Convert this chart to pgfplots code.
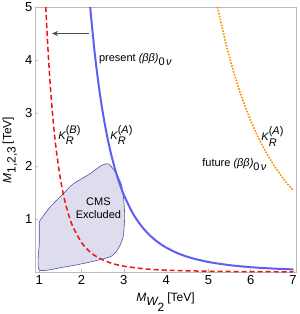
\documentclass[border=0pt]{standalone}
\usepackage{fontspec}
\setmainfont{Liberation Sans}
\usepackage{pgfplots}
\pgfplotsset{compat=1.18}
\usetikzlibrary{arrows.meta}
\definecolor{cblue}{RGB}{94,94,240}
\definecolor{cred}{RGB}{238,20,20}
\definecolor{corange}{RGB}{255,140,0}
\definecolor{cfill}{RGB}{221,221,238}
\definecolor{cedge}{RGB}{80,80,180}
\definecolor{cframe}{RGB}{185,185,185}
\begin{document}
\begin{tikzpicture}
\begin{axis}[
  scale only axis, width=261pt, height=265pt,
  xmin=0.9, xmax=7.07, ymin=0, ymax=5,
  xtick={1,2,3,4,5,6,7}, ytick={1,2,3,4,5},
  tick pos=left, tick align=inside,
  major tick length=3pt,
  axis line style={cframe},
  every tick/.style={cframe, line width=0.6pt},
  tick label style={font=\fontsize{13}{13}\selectfont},
  yticklabel style={xshift=1pt},
  /pgf/number format/assume math mode=true,
  clip mode=individual,
]
% CMS excluded region
\addplot[fill=cfill, draw=cedge, line width=0.6pt, smooth, tension=0.4] coordinates {
(1.0,0.95) (1.25,1.22) (1.56,1.47) (1.80,1.66) (2.19,1.85) (2.47,2.01) (2.63,2.04)
(2.78,1.91) (2.94,1.66) (3.00,1.34) (3.02,1.03) (2.98,0.65) (2.86,0.43) (2.71,0.30)
(2.47,0.24) (2.04,0.16) (1.56,0.09) (1.0,0.04) (1.0,0.5)} -- cycle;
% present bound, blue
\addplot[cblue, line width=2pt, smooth] coordinates {
(2.204,5.0) (2.3,4.217) (2.4,3.556) (2.5,3.021) (2.6,2.582) (2.7,2.220) (2.8,1.920)
(2.9,1.668) (3.0,1.457) (3.2,1.125) (3.4,0.883) (3.6,0.703) (3.8,0.566) (4.0,0.461)
(4.3,0.345) (4.6,0.264) (5.0,0.189) (5.5,0.129) (6.0,0.091) (6.5,0.066) (7.0,0.049)};
% K_R^(B), red dashed
\addplot[cred, line width=1.5pt, dash pattern=on 5pt off 3pt, smooth] coordinates {
(1.155,5.0) (1.2,4.292) (1.25,3.646) (1.3,3.116) (1.35,2.680) (1.4,2.317) (1.5,1.758)
(1.6,1.358) (1.7,1.066) (1.8,0.848) (2.0,0.556) (2.2,0.380) (2.4,0.268) (2.7,0.167)
(3.0,0.110) (3.5,0.059) (4.0,0.035) (5.0,0.014) (6.0,0.0069) (7.0,0.0037)};
% future bound, orange dotted
\addplot[corange, line width=1.6pt, dash pattern=on 1.6pt off 1.4pt, smooth] coordinates {
(5.216,5.0) (5.4,4.351) (5.6,3.762) (5.8,3.270) (6.0,2.855) (6.2,2.504) (6.4,2.205)
(6.6,1.950) (6.8,1.730) (7.0,1.541)};
\draw[-{Stealth[length=6pt,width=5pt]}, line width=1pt, black!70] (axis cs:2.17,4.5) -- (axis cs:1.30,4.5);
\node[anchor=west, font=\fontsize{11}{11}\selectfont] at (axis cs:2.33,4.0) {present \textit{(ββ)}$_{\textrm{0}\,\textit{ν}}$};
\node[font=\fontsize{11}{11}\selectfont] at (axis cs:1.72,2.58) {$\textit{K}_{\textit{R}}^{\textrm{(}\textit{B}\textrm{)}}$};
\node[font=\fontsize{11}{11}\selectfont] at (axis cs:2.95,2.58) {$\textit{K}_{\textit{R}}^{\textrm{(}\textit{A}\textrm{)}}$};
\node[font=\fontsize{11}{11}\selectfont] at (axis cs:6.52,2.56) {$\textit{K}_{\textit{R}}^{\textrm{(}\textit{A}\textrm{)}}$};
\node[font=\fontsize{11}{11}\selectfont] at (axis cs:5.62,2.03) {future \textit{(ββ)}$_{\textrm{0}\,\textit{ν}}$};
\node[align=center, font=\fontsize{11}{13}\selectfont] at (axis cs:2.4,1.21) {CMS\\Excluded};
\node[font=\fontsize{12}{12}\selectfont] at (axis description cs:0.5,-0.113) {$\textit{M}_{\textit{W}_{\textrm{2}}}$\,[TeV]};
\node[rotate=90, font=\fontsize{12}{12}\selectfont] at (axis description cs:-0.096,0.46) {$\textit{M}_{\textrm{1,2,3}}$\,[TeV]};
\end{axis}
\pgfresetboundingbox
\path[use as bounding box] ([xshift=-35pt,yshift=-42pt]current axis.south west) rectangle ([xshift=3pt,yshift=7pt]current axis.north east);
\end{tikzpicture}
\end{document}
